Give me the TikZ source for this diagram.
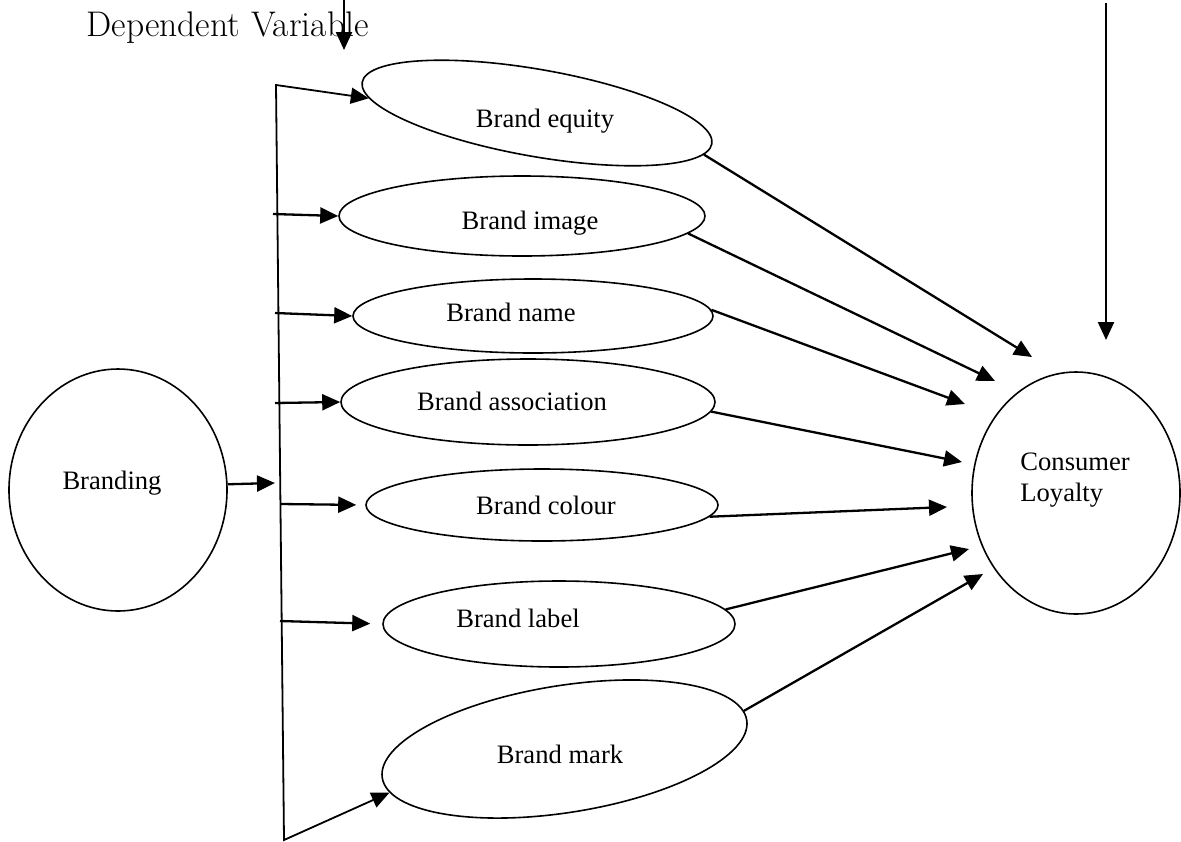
\documentclass[tikz,border=0pt]{standalone}
\usepackage{fontspec}
\newfontfamily\tnr{Liberation Serif}
\usetikzlibrary{shapes.geometric,arrows.meta}
\begin{document}
\begin{tikzpicture}[x=0.5pt, y=-0.5pt,
    >={Triangle[length=9pt,width=8pt]},
    oval/.style={ellipse, draw, line width=0.8pt, inner sep=0pt},
    txt/.style={font=\tnr\fontsize{13.3}{15.5}\selectfont, inner sep=0pt, anchor=base},
    link/.style={line width=1.15pt, ->}]
  \useasboundingbox (0,0) rectangle (1181,841);
  \node[anchor=base west, inner sep=0pt, font=\fontsize{17.8}{21}\selectfont] (dv) at (86,36) {Dependent Variable};
  % ovals
  \node[oval, minimum width=109pt, minimum height=121pt] (brd) at (118,490) {};
  \node[oval, minimum width=104pt, minimum height=121pt] (cl) at (1076,493) {};
  \node[oval, minimum width=177.5pt, minimum height=43.5pt, rotate=-10] (eq) at (537,113) {};
  \node[oval, minimum width=183pt, minimum height=40pt] (img) at (522,216) {};
  \node[oval, minimum width=180pt, minimum height=37pt] (nam) at (533,316) {};
  \node[oval, minimum width=187pt, minimum height=43pt] (asc) at (528,402) {};
  \node[oval, minimum width=176pt, minimum height=36pt] (col) at (542,505) {};
  \node[oval, minimum width=176pt, minimum height=43pt] (lab) at (559,624) {};
  \node[oval, minimum width=184.5pt, minimum height=63.5pt, rotate=9] (mrk) at (564.5,749) {};
  % labels
  \node[txt] (brdt) at (112,489) {Branding};
  \node[txt, anchor=west, align=left] (clt) at (1020,480) {Consumer\\Loyalty};
  \node[txt] (eqt) at (545,127) {Brand equity};
  \node[txt] (imgt) at (530,229) {Brand image};
  \node[txt] (namt) at (511,321) {Brand name};
  \node[txt] (asct) at (512,410) {Brand association};
  \node[txt] (colt) at (546,514) {Brand colour};
  \node[txt] (labt) at (518,627) {Brand label};
  \node[txt] (mrkt) at (560,763) {Brand mark};
  % free ends
  \coordinate (top) at (276,85);
  \coordinate (bot) at (284,840);
  \coordinate (brtip) at (275,483);
  \coordinate (s2) at (273,214);
  \coordinate (s3) at (275,313);
  \coordinate (s4) at (275,403);
  \coordinate (s5) at (281,504);
  \coordinate (s6) at (280,621);
  \coordinate (t1) at (1032,357);
  \coordinate (t2) at (995,381);
  \coordinate (t3) at (965,404);
  \coordinate (t4) at (962,462);
  \coordinate (t5) at (947,507);
  \coordinate (t6) at (969,549);
  \coordinate (t7) at (983,574);
  \coordinate (dva) at (344,-10);
  \coordinate (dvb) at (344,50);
  \coordinate (cla) at (1106,3);
  \coordinate (clb) at (1106,340);
  % connectors
  \draw[line width=0.9pt, <->] (eq.185) -- (top) -- (bot) -- (mrk.185);
  \draw[link] (brd.3) -- (brtip);
  \draw[link] (s2) -- (img.west);
  \draw[link] (s3) -- (nam.west);
  \draw[link] (s4) -- (asc.west);
  \draw[link, shorten >=4.5pt] (s5) -- (col.west);
  \draw[link, shorten >=6pt] (s6) -- (lab.west);
  \draw[link] (eq.-4) -- (t1);
  \draw[link] (img.-6) -- (t2);
  \draw[link] (nam.2) -- (t3);
  \draw[link] (asc.-3) -- (t4);
  \draw[link] (col.-4) -- (t5);
  \draw[link] (lab.5) -- (t6);
  \draw[link] (mrk.3) -- (t7);
  \draw[link] (dva) -- (dvb);
  \draw[link] (cla) -- (clb);
\end{tikzpicture}
\end{document}
